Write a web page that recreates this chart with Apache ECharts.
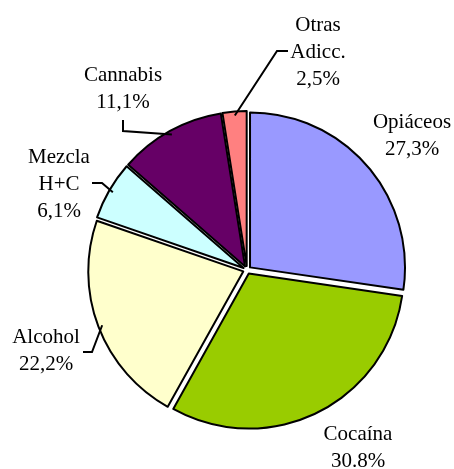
<!DOCTYPE html>
<html><head><meta charset="utf-8">
<script src="https://cdn.jsdelivr.net/npm/echarts@6/dist/echarts.min.js"></script>
<style>html,body{margin:0;padding:0;background:#fff}#c{width:454px;height:469px}</style>
</head><body><div id="c"></div>
<script>
var categories = ['Opiáceos', 'Cocaína', 'Alcohol', 'Mezcla\nH+C', 'Cannabis', 'Otras\nAdicc.'];
var values = [27.3, 30.8, 22.2, 6.1, 11.1, 2.5];
var pctLabels = ['27,3%', '30.8%', '22,2%', '6,1%', '11,1%', '2,5%'];
var colors = ['#9999FF', '#99CC00', '#FFFFCC', '#CCFFFF', '#660066', '#FF8080'];
var showLine = [false, false, true, true, true, true];
// label layout (positions only)
var labelPos = [[412, 136], [358, 448], [46, 351], [59, 184], [123, 89], [318, 52]];
var leaderBend = [null, null, [[92, 352], [83, 352]], [[102, 183], [92, 183]], [[123, 131], [123, 120]], [[277, 51], [288, 51]]];

var chart = echarts.init(document.getElementById('c'));
var common = {
  type: 'pie',
  center: [247, 270],
  radius: [0, 155],
  startAngle: 90,
  clockwise: true,
  emphasis: { disabled: true }
};
chart.setOption({
  animation: false,
  series: [
    Object.assign({}, common, {
      name: 'slices',
      selectedMode: 'multiple',
      selectedOffset: 4,
      itemStyle: { borderColor: '#000', borderWidth: 2 },
      label: { show: false },
      labelLine: { show: false },
      data: values.map(function (v, i) {
        return { value: v, name: categories[i], selected: true, itemStyle: { color: colors[i] } };
      })
    }),
    Object.assign({}, common, {
      name: 'labels',
      silent: true,
      z: 3,
      itemStyle: { color: 'rgba(0,0,0,0)', borderWidth: 0 },
      label: {
        fontFamily: 'Liberation Serif',
        fontSize: 21,
        lineHeight: 27,
        width: 130,
        overflow: 'none',
        color: '#000',
        align: 'center',
        formatter: function (p) { return categories[p.dataIndex] + '\n' + pctLabels[p.dataIndex]; }
      },
      labelLine: { lineStyle: { color: '#000', width: 2 }, length: 10, length2: 10 },
      labelLayout: function (p) {
        var i = p.dataIndex;
        var pos = labelPos[i];
        var out = { x: pos[0], y: pos[1], align: 'center', verticalAlign: 'middle' };
        if (leaderBend[i] && p.labelLinePoints) {
          out.labelLinePoints = [p.labelLinePoints[0], leaderBend[i][0], leaderBend[i][1]];
        }
        return out;
      },
      data: values.map(function (v, i) {
        return { value: v, name: categories[i], labelLine: { show: showLine[i] } };
      })
    })
  ]
});
</script>
</body></html>
